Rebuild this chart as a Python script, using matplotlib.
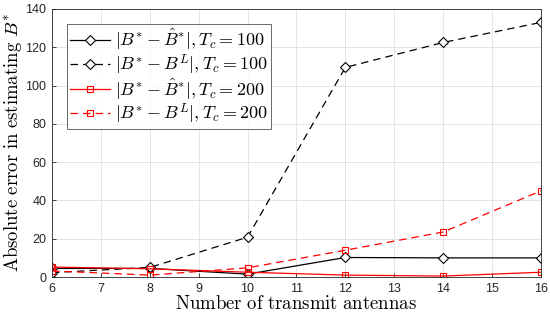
import numpy as np
from matplotlib import pyplot as plt

plt.rcParams['mathtext.fontset'] = 'cm'
plt.rcParams['font.family'] = ['Liberation Sans', 'DejaVu Sans']

antennas = [6, 8, 10, 12, 14, 16]
err_hat_100 = [4.5, 4.5, 1.5, 10.2, 10.0, 10.0]
err_L_100 = [2.3, 5.0, 20.8, 109.5, 122.5, 133.0]
err_hat_200 = [5.2, 4.3, 2.5, 1.0, 0.5, 2.5]
err_L_200 = [3.2, 1.0, 4.8, 14.0, 23.5, 45.0]

fig = plt.figure(figsize=(5.5, 3.21), dpi=100)
ax = fig.add_axes([0.0945, 0.137, 0.889, 0.835])

ax.plot(antennas, err_hat_100, color='k', ls='-', lw=0.9, marker='D', ms=5.5,
        mfc='white', mec='k', mew=0.8,
        label=r'$|B^{*}-\hat{B}^{*}|, T_c=100$')
ax.plot(antennas, err_L_100, color='k', ls=(0, (6, 4)), lw=0.9, marker='D', ms=5.5,
        mfc='white', mec='k', mew=0.8,
        label=r'$|B^{*}-B^{L}|, T_c=100$')
ax.plot(antennas, err_hat_200, color='red', ls='-', lw=0.9, marker='s', ms=5,
        mfc='none', mec='red', mew=0.8,
        label=r'$|B^{*}-\hat{B}^{*}|, T_c=200$')
ax.plot(antennas, err_L_200, color='red', ls=(0, (6, 4)), lw=0.9, marker='s', ms=5,
        mfc='none', mec='red', mew=0.8,
        label=r'$|B^{*}-B^{L}|, T_c=200$')

ax.set_xlim(6, 16)
ax.set_ylim(0, 140)
ax.set_xticks(range(6, 17))
ax.set_yticks(range(0, 141, 20))
ax.tick_params(direction='in', labelsize=9, length=3, width=0.6, colors='#262626', pad=4)
ax.grid(True, color='#e0e0e0', lw=0.6)
ax.set_axisbelow(True)
for s in ax.spines.values():
    s.set_linewidth(0.6)
    s.set_color('#262626')

ax.set_xlabel(r'$\mathrm{Number\ of\ transmit\ antennas}$', fontsize=13.5, labelpad=0)
ax.set_ylabel(r'$\mathrm{Absolute\ error\ in\ estimating}\ B^{*}$', fontsize=13.5, labelpad=1)

leg = ax.legend(loc='upper left', fontsize=13, frameon=True, fancybox=False,
                edgecolor='#262626', borderpad=0.15, labelspacing=0.0,
                handlelength=2.2, handletextpad=0.3, borderaxespad=0.85)
leg.get_frame().set_linewidth(0.6)

fig.savefig('out.png', dpi=100)
